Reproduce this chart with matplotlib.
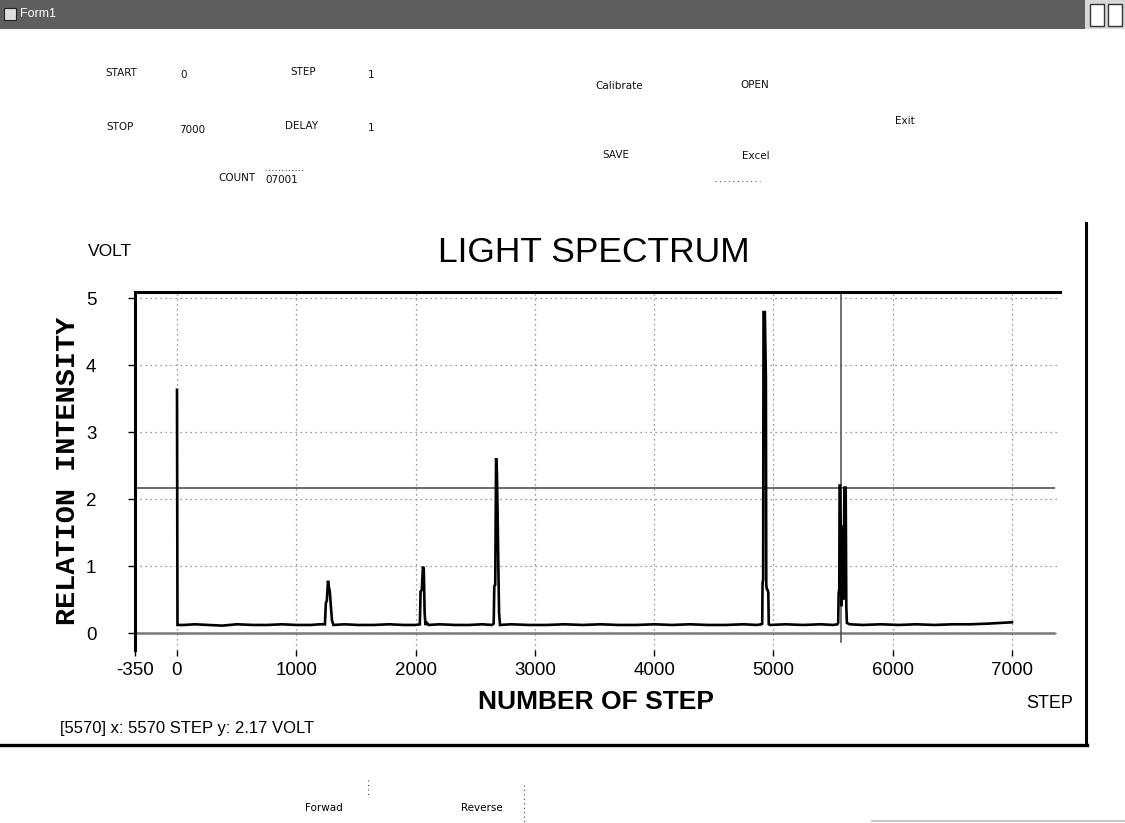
import matplotlib
matplotlib.use("Agg")
import matplotlib.pyplot as plt
from matplotlib.lines import Line2D
from matplotlib.patches import Rectangle

# ---------------- data ----------------
steps = [0, 4, 60, 150, 260, 380, 500, 640, 760, 880, 1000, 1120, 1200, 1240,
         1248, 1256, 1266, 1272, 1281, 1292, 1300, 1312, 1400, 1520, 1650, 1780,
         1900, 2000, 2036, 2042, 2052, 2062, 2069, 2076, 2083, 2095, 2110, 2200,
         2330, 2450, 2560, 2640, 2655, 2660, 2668, 2675, 2682, 2688, 2694, 2700,
         2708, 2800, 2950, 3100, 3250, 3400, 3550, 3700, 3850, 4000, 4150, 4300,
         4450, 4600, 4750, 4860, 4900, 4906, 4909, 4914, 4917, 4928, 4933, 4937,
         4940, 4944, 4952, 4957, 4961, 4975, 5100, 5250, 5400, 5500, 5536, 5543,
         5547, 5552, 5555, 5560, 5564, 5568, 5572, 5577, 5581, 5586, 5590, 5595,
         5600, 5606, 5611, 5616, 5640, 5750, 5900, 6050, 6200, 6350, 6500, 6650,
         6800, 6900, 7000]
volts = [3.63, 0.12, 0.12, 0.13, 0.12, 0.11, 0.13, 0.12, 0.12, 0.13, 0.12, 0.12, 0.13, 0.13,
         0.45, 0.48, 0.78, 0.70, 0.62, 0.35, 0.18, 0.12, 0.13, 0.12, 0.12, 0.13,
         0.12, 0.12, 0.13, 0.62, 0.64, 0.99, 0.95, 0.30, 0.12, 0.15, 0.12, 0.13,
         0.12, 0.12, 0.13, 0.12, 0.14, 0.70, 0.72, 2.61, 2.40, 1.74, 1.00, 0.30,
         0.12, 0.13, 0.12, 0.12, 0.13, 0.12, 0.13, 0.12, 0.12, 0.13, 0.12, 0.13,
         0.12, 0.12, 0.13, 0.12, 0.13, 0.14, 0.75, 0.80, 4.79, 4.79, 4.25, 3.80,
         0.72, 0.66, 0.64, 0.60, 0.13, 0.12, 0.13, 0.12, 0.13, 0.12, 0.13, 0.15,
         0.60, 0.65, 2.20, 2.20, 1.50, 0.60, 0.40, 1.00, 1.60, 0.50, 1.20, 2.17,
         2.17, 2.17, 0.40, 0.15, 0.13, 0.12, 0.13, 0.12, 0.13, 0.12, 0.13, 0.13,
         0.14, 0.15, 0.16]

x_ticks = [-350, 0, 1000, 2000, 3000, 4000, 5000, 6000, 7000]
x_tick_labels = ["-350", "0", "1000", "2000", "3000", "4000", "5000", "6000", "7000"]
y_ticks = [0, 1, 2, 3, 4, 5]
y_tick_labels = ["0", "1", "2", "3", "4", "5"]
x_limits = (-350, 7400)
y_limits = (-0.25, 5.09)
ref_line_end = 7350
cursor_step = 5570
cursor_volt = 2.17

W, H = 1125, 823
def fx(px): return px / W
def fy(py): return 1 - py / H

SANS = "Liberation Sans"
plt.rcParams["font.family"] = [SANS, "DejaVu Sans"]

fig = plt.figure(figsize=(W / 100, H / 100), dpi=100)
fig.patch.set_facecolor("white")

# ---------------- window title bar ----------------
fig.add_artist(Rectangle((0, fy(29)), fx(1085), 29 / H, transform=fig.transFigure,
                         facecolor="#5e5e5e", edgecolor="none"))
fig.add_artist(Rectangle((fx(1085), fy(29)), fx(40), 29 / H, transform=fig.transFigure,
                         facecolor="#d8d8d8", edgecolor="none"))
for bx in (1090, 1108):
    fig.add_artist(Rectangle((fx(bx), fy(26)), fx(14), 22 / H, transform=fig.transFigure,
                             facecolor="white", edgecolor="#333333", lw=1))
fig.add_artist(Rectangle((fx(4), fy(20)), fx(12), 12 / H, transform=fig.transFigure,
                         facecolor="#dddddd", edgecolor="#222222", lw=0.8))
fig.text(fx(20), fy(14), "Form1", color="white", fontsize=9, ha="left", va="center")

# ---------------- form controls ----------------
form_labels = [("START", 121, 73), ("0", 184, 75), ("STEP", 303, 72), ("1", 371, 75),
               ("Calibrate", 619, 86), ("OPEN", 755, 85),
               ("STOP", 120, 127), ("7000", 192, 130), ("DELAY", 302, 126), ("1", 371, 128),
               ("Exit", 905, 121), ("SAVE", 616, 155), ("Excel", 756, 156),
               ("COUNT", 237, 178), ("07001", 282, 180)]
for t, x, y in form_labels:
    fig.text(fx(x), fy(y), t, fontsize=7.5, family="DejaVu Sans", ha="center", va="center",
             color="#111111")
fig.add_artist(Line2D([fx(265), fx(305)], [fy(170), fy(170)], transform=fig.transFigure,
                      color="#555555", lw=0.8, linestyle=(0, (1, 2))))
fig.add_artist(Line2D([fx(715), fx(760)], [fy(181), fy(181)], transform=fig.transFigure,
                      color="#555555", lw=0.8, linestyle=(0, (1, 3))))

# ---------------- bottom controls ----------------
fig.text(fx(324), fy(808), "Forwad", fontsize=7.5, family="DejaVu Sans", ha="center", va="center")
fig.text(fx(482), fy(808), "Reverse", fontsize=7.5, family="DejaVu Sans", ha="center", va="center")
fig.add_artist(Line2D([fx(368), fx(368)], [fy(780), fy(796)], transform=fig.transFigure,
                      color="#444444", lw=0.8, linestyle=(0, (1, 3))))
fig.add_artist(Line2D([fx(524), fx(524)], [fy(785), fy(823)], transform=fig.transFigure,
                      color="#444444", lw=0.8, linestyle=(0, (1, 3))))
fig.add_artist(Line2D([fx(872), fx(1125)], [fy(821), fy(821)], transform=fig.transFigure,
                      color="#bbbbbb", lw=1.2))

# ---------------- chart frame ----------------
fig.add_artist(Line2D([fx(1086), fx(1086)], [fy(223), fy(745)], transform=fig.transFigure,
                      color="black", lw=2.2))
fig.add_artist(Line2D([0, fx(1087)], [fy(745), fy(745)], transform=fig.transFigure,
                      color="black", lw=2.4))

# ---------------- axes ----------------
left_px, right_px = 135.25, 1059.7
top_px, bot_px = 292.0, 649.75
ax = fig.add_axes([fx(left_px), fy(bot_px), (right_px - left_px) / W, (bot_px - top_px) / H])
ax.set_xlim(*x_limits)
ax.set_ylim(*y_limits)
ax.set_facecolor("none")
for s in ("right", "bottom"):
    ax.spines[s].set_visible(False)
for s in ("left", "top"):
    ax.spines[s].set_linewidth(2.2)
    ax.spines[s].set_color("black")

ax.set_xticks(x_ticks)
ax.set_xticklabels(x_tick_labels)
ax.set_yticks(y_ticks)
ax.set_yticklabels(y_tick_labels)
ax.tick_params(axis="x", direction="out", length=4, width=1, pad=5, labelsize=13.5)
ax.tick_params(axis="y", direction="out", length=5, width=1, pad=23, labelsize=13.5)

ax.grid(True, linestyle=(0, (1, 3)), color="#777777", lw=0.9)
ax.set_axisbelow(True)

span = x_limits[1] - x_limits[0]
ax.axhline(0, xmin=0, xmax=(ref_line_end - x_limits[0]) / span, color="#7a7a7a", lw=1.8)
ax.axhline(cursor_volt, xmin=0, xmax=(ref_line_end - x_limits[0]) / span, color="#6a6a6a", lw=1.4)
ax.axvline(cursor_step, ymin=(-0.14 - y_limits[0]) / (y_limits[1] - y_limits[0]), ymax=1,
           color="#4a4a4a", lw=1.1)

ax.plot(steps, volts, color="black", lw=1.9, solid_joinstyle="miter")

# ---------------- texts ----------------
fig.text(fx(594), fy(252), "LIGHT SPECTRUM", fontsize=25.5, ha="center", va="center")
fig.text(fx(110), fy(251), "VOLT", fontsize=12.5, ha="center", va="center")
fig.text(fx(596), fy(702), "NUMBER OF STEP", fontsize=19, fontweight="bold", ha="center", va="center")
fig.text(fx(1050), fy(704), "STEP", fontsize=13, ha="center", va="center")
fig.text(fx(68), fy(471), "RELATION INTENSITY", fontsize=20.5, fontweight="bold",
         family="Liberation Mono", rotation=90, ha="center", va="center")
fig.text(fx(60), fy(729), "[5570] x: 5570 STEP y: 2.17 VOLT", fontsize=12, ha="left", va="center")

fig.savefig("out.png", dpi=100)
